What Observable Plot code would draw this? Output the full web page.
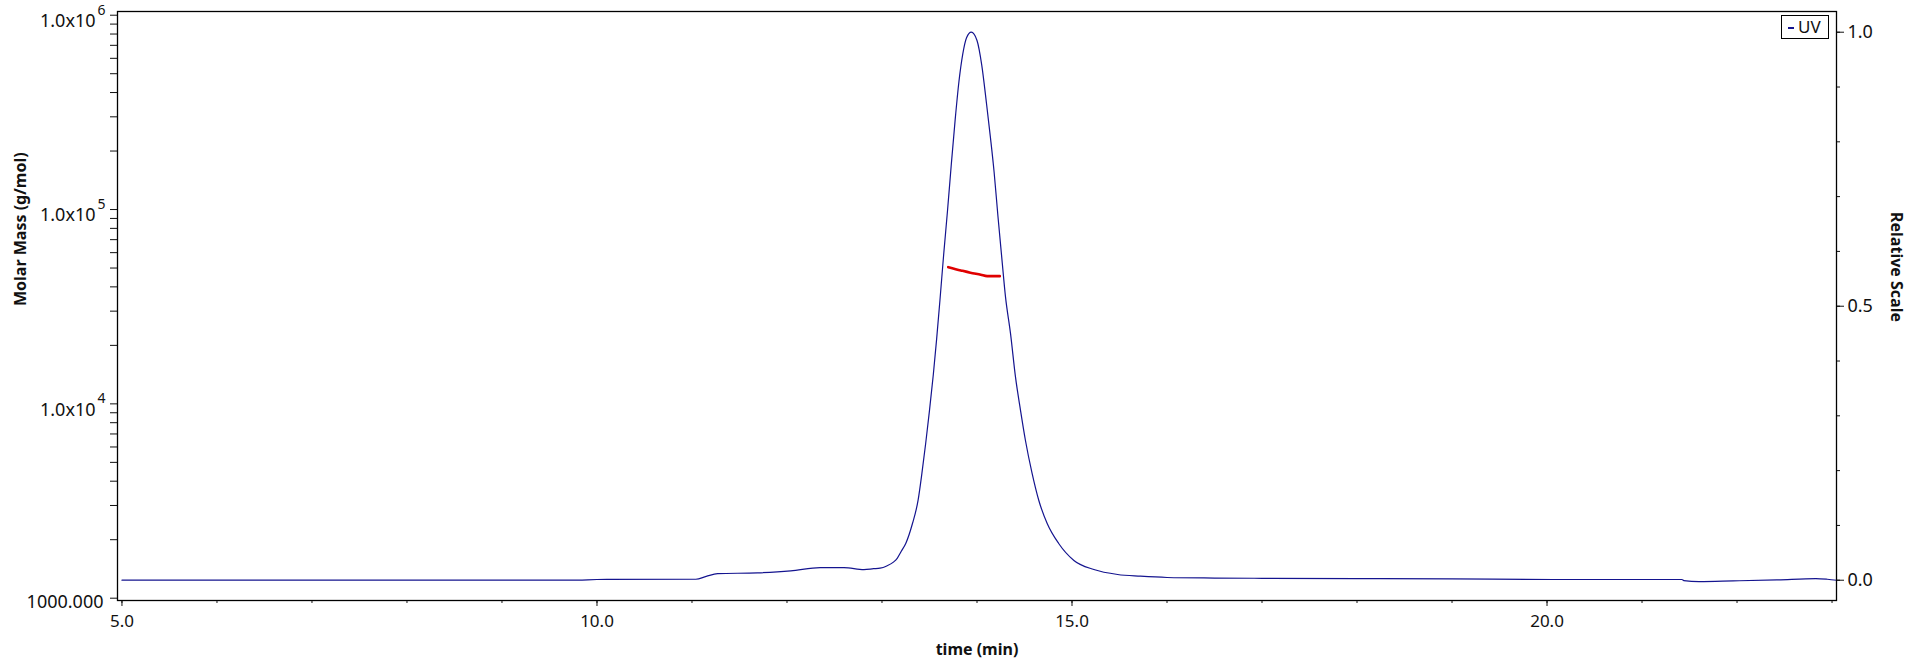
<!DOCTYPE html>
<html>
<head>
<meta charset="utf-8">
<script src="https://cdn.jsdelivr.net/npm/d3@7"></script>
<script src="https://cdn.jsdelivr.net/npm/@observablehq/plot@0.6"></script>
<style>
  body { margin: 0; background: white; }
  #wrap { position: relative; width: 1920px; height: 672px; font-family: "Noto Sans", "Open Sans", sans-serif; }
  #wrap > svg, #wrap > figure { position: absolute; left: 0; top: 0; margin: 0; }
  #legend { position: absolute; left: 1781px; top: 15px; width: 46px; height: 22px; border: 1px solid #000; background: white;
            font-size: 17px; line-height: 22px; color: #111; box-sizing: content-box; }
  #legend .dash { display: inline-block; width: 6px; height: 2px; background: #14148f; vertical-align: middle; margin: 0 4px 0 6px; }
</style>
</head>
<body>
<div id="wrap"></div>
<script>
// UV trace (relative scale)
const uvTime = [5.0, 6.0, 7.0, 8.0, 9.0, 9.8, 10.0, 11.04, 11.15, 11.27, 11.69, 12.04, 12.35, 12.6, 12.81, 12.91, 12.98, 13.05, 13.12, 13.16, 13.20, 13.25, 13.32, 13.38, 13.42, 13.46, 13.50, 13.54, 13.575, 13.61, 13.65, 13.69, 13.73, 13.77, 13.81, 13.85, 13.89, 13.94, 14.00, 14.05, 14.10, 14.14, 14.18, 14.22, 14.26, 14.30, 14.353, 14.405, 14.458, 14.51, 14.58, 14.65, 14.74, 14.86, 15.02, 15.23, 15.48, 15.72, 16.0, 16.5, 17.0, 18.0, 19.0, 20.14, 21.42, 21.44, 21.6, 21.96, 22.42, 22.83, 22.95, 23.05];
const uvValue = [0.000, 0.000, 0.000, 0.000, 0.000, 0.000, 0.0013, 0.0018, 0.007, 0.012, 0.0134, 0.017, 0.023, 0.023, 0.0195, 0.021, 0.022, 0.026, 0.033, 0.040, 0.052, 0.067, 0.103, 0.146, 0.195, 0.25, 0.31, 0.375, 0.44, 0.511, 0.596, 0.675, 0.76, 0.84, 0.91, 0.96, 0.99, 1.0, 0.985, 0.94, 0.87, 0.81, 0.745, 0.665, 0.59, 0.517, 0.450, 0.371, 0.310, 0.255, 0.195, 0.146, 0.103, 0.067, 0.036, 0.0195, 0.0104, 0.0073, 0.005, 0.004, 0.0035, 0.003, 0.0025, 0.0013, 0.0013, -0.0006, -0.0024, -0.0012, 0.0006, 0.003, 0.0018, 0.0];

// Molar mass (g/mol)
const mmTime = [13.697, 13.83, 13.93, 14.04, 14.107, 14.24];
const mmValue = [50530, 48600, 47290, 46180, 45420, 45420];

// tick labels
const xMajorTicks = [5, 10, 15, 20];
const xMinorTicks = d3.range(5, 24, 1);
const massDecades = [1000, 10000, 100000, 1000000];
const massExponents = ["", "4", "5", "6"];
const massMinorTicks = [1000, 2000, 3000, 4000, 5000, 6000, 7000, 8000, 9000,
  10000, 20000, 30000, 40000, 50000, 60000, 70000, 80000, 90000,
  100000, 200000, 300000, 400000, 500000, 600000, 700000, 800000, 900000, 1000000];
const relMajorTicks = [0, 0.5, 1.0];
const relMinorTicks = d3.range(0, 11).map(i => i / 10);

const uv = uvTime.map((t, i) => ({t, v: uvValue[i]}));
const mm = mmTime.map((t, i) => ({t, m: mmValue[i]}));

const W = 1920, H = 672;
const margins = {marginLeft: 117, marginRight: 84, marginTop: 11, marginBottom: 72};
const xDomain = [4.953, 23.047];
const font = "Noto Sans, Open Sans, sans-serif";

const back = Plot.plot({
  width: W, height: H, ...margins,
  style: {fontFamily: font, fontSize: "17px", color: "#111", background: "white"},
  x: {domain: xDomain},
  y: {type: "log", domain: [973, 1.045e6]},
  marks: [
    Plot.axisX({ticks: xMinorTicks, tickSize: 3, tickFormat: () => "", label: null}),
    Plot.axisX({ticks: xMajorTicks, tickSize: 6, tickPadding: 8, tickFormat: d => d.toFixed(1), fontSize: 17, label: null}),
    Plot.axisY({ticks: massMinorTicks, tickSize: 7, tickFormat: () => "", label: null}),
    Plot.text(massDecades, {y: d => d, frameAnchor: "left", dx: -22, dy: 6, textAnchor: "end",
      text: d => d === 1000 ? "" : "1.0x10", fontSize: 18}),
    Plot.text(massDecades.slice(0, 1), {y: d => d, frameAnchor: "left", dx: -14, dy: 4, textAnchor: "end",
      text: () => "1000.000", fontSize: 18}),
    Plot.text(massDecades, {y: d => d, frameAnchor: "left", dx: -20, dy: -5, textAnchor: "start",
      text: (d, i) => massExponents[i], fontSize: 14}),
    Plot.text(["Molar Mass (g/mol)"], {frameAnchor: "left", dx: -97, rotate: -90, fontWeight: "bold", fontSize: 16}),
    Plot.text(["time (min)"], {frameAnchor: "bottom", dy: 54, fontWeight: "bold", fontSize: 16}),
    Plot.line(mm, {x: "t", y: "m", stroke: "#e00000", strokeWidth: 2.6, curve: "monotone-x"})
  ]
});

const front = Plot.plot({
  width: W, height: H, ...margins,
  style: {fontFamily: font, fontSize: "17px", color: "#111", background: "transparent"},
  x: {domain: xDomain, axis: null},
  y: {domain: [-0.037, 1.0378]},
  marks: [
    Plot.axisY({anchor: "right", ticks: relMinorTicks, tickSize: 3, tickFormat: () => "", label: null}),
    Plot.axisY({anchor: "right", ticks: relMajorTicks, tickSize: 7, tickPadding: 4, tickFormat: d => d.toFixed(1), fontSize: 18, label: null}),
    Plot.text(["Relative Scale"], {frameAnchor: "right", dx: 60, dy: 16, rotate: 90, fontWeight: "bold", fontSize: 16}),
    Plot.line(uv, {x: "t", y: "v", stroke: "#14148f", strokeWidth: 1.2, curve: "monotone-x"}),
    Plot.frame({stroke: "#000", strokeWidth: 1.3})
  ]
});

const wrap = document.getElementById("wrap");
wrap.appendChild(back);
wrap.appendChild(front);
const legend = document.createElement("div");
legend.id = "legend";
legend.innerHTML = '<span class="dash"></span>UV';
wrap.appendChild(legend);
</script>
</body>
</html>
